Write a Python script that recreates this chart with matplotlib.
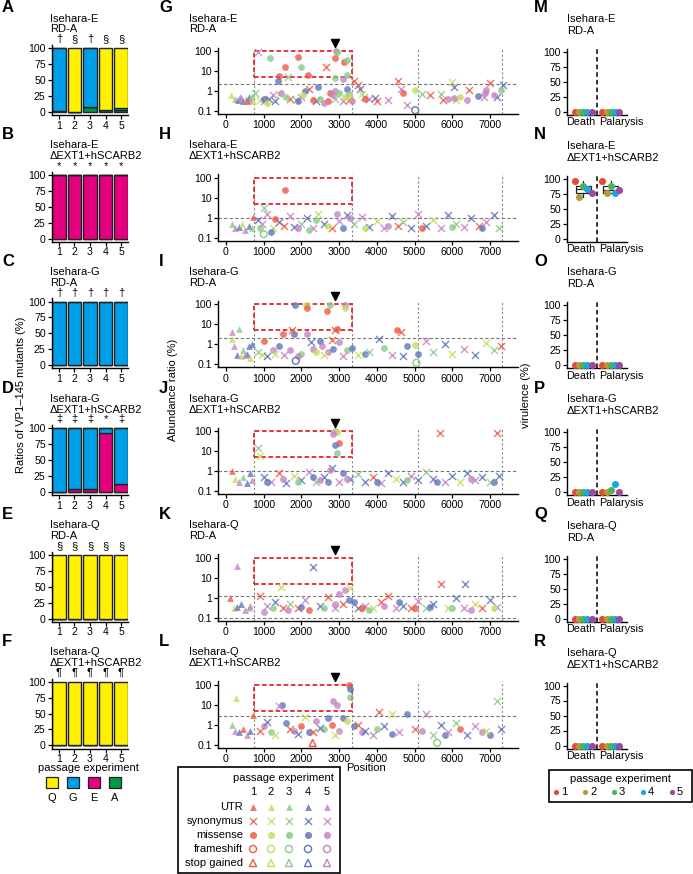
import matplotlib
matplotlib.use('Agg')
import matplotlib.pyplot as plt
from matplotlib.patches import Rectangle

plt.rcParams['font.family'] = ['Liberation Sans', 'DejaVu Sans']

# ---------------- data ----------------
titles = [("Isehara-E", "RD-A"), ("Isehara-E", "ΔEXT1+hSCARB2"),
          ("Isehara-G", "RD-A"), ("Isehara-G", "ΔEXT1+hSCARB2"),
          ("Isehara-Q", "RD-A"), ("Isehara-Q", "ΔEXT1+hSCARB2")]
passages = [1, 2, 3, 4, 5]
genotypes = ["Q", "G", "E", "A"]
geno_colors = {"Q": "#FFF100", "G": "#00A0E9", "E": "#E4007F", "A": "#009944"}

# stacked compositions (%) per panel, per passage 1..5
bar_A = {"Q": [0, 100, 0, 97, 94], "G": [98, 0, 92, 0, 3], "E": [0, 0, 0, 0, 0], "A": [2, 0, 8, 3, 3]}
bar_B = {"Q": [0, 0, 0, 0, 0], "G": [0, 0, 0, 0, 0], "E": [100, 100, 100, 100, 100], "A": [0, 0, 0, 0, 0]}
bar_C = {"Q": [0, 0, 0, 0, 0], "G": [100, 100, 100, 100, 100], "E": [0, 0, 0, 0, 0], "A": [0, 0, 0, 0, 0]}
bar_D = {"Q": [0, 0, 0, 0, 0], "G": [100, 96, 95, 7, 88], "E": [0, 4, 5, 93, 12], "A": [0, 0, 0, 0, 0]}
bar_E = {"Q": [100, 100, 100, 100, 100], "G": [0, 0, 0, 0, 0], "E": [0, 0, 0, 0, 0], "A": [0, 0, 0, 0, 0]}
bar_F = {"Q": [100, 100, 100, 100, 100], "G": [0, 0, 0, 0, 0], "E": [0, 0, 0, 0, 0], "A": [0, 0, 0, 0, 0]}
bar_data = [bar_A, bar_B, bar_C, bar_D, bar_E, bar_F]
bar_marks = [["†", "§", "†", "§", "§"], ["*"] * 5, ["†"] * 5,
             ["‡", "‡", "‡", "*", "‡"], ["§"] * 5, ["¶"] * 5]

# scatter: (position, abundance ratio %, type, passage)
# types: U=UTR, S=synonymus, M=missense, F=frameshift, X=stop gained
G_pts = [(130,0.6,'U',2),(250,0.4,'U',3),(330,0.35,'U',4),(400,0.45,'U',5),(450,0.3,'U',4),(520,0.4,'U',3),
         (600,0.5,'U',4),(650,0.35,'U',5),(700,0.55,'U',3),(720,0.3,'U',2),(380,0.5,'U',5),(560,0.3,'U',1),
         (850,90,'S',5),(760,0.8,'S',3),(900,0.35,'S',2),(1000,0.3,'S',5),(1150,0.4,'S',4),(1250,0.6,'S',5),
         (1300,0.3,'S',4),(1400,0.7,'S',2),(1650,5,'S',3),(1700,0.4,'S',1),(1850,0.35,'S',3),(2000,0.5,'S',5),
         (2200,1.2,'S',1),(2400,0.3,'S',4),(2650,16,'S',1),(2900,0.4,'S',3),(3100,0.3,'S',5),(3250,0.35,'S',1),
         (3400,3,'S',1),(3500,2,'S',1),(3550,1.2,'S',4),(3650,0.5,'S',3),(3800,0.4,'S',5),(3950,0.45,'S',4),
         (4300,0.35,'S',5),(4550,3,'S',1),(4650,1.3,'S',5),(4800,0.2,'S',5),(5200,0.7,'S',3),(5400,0.6,'S',1),
         (5700,0.75,'S',3),(5750,0.35,'S',1),(5990,2.9,'S',2),(6050,1.5,'S',4),(6100,0.35,'S',2),(6450,1.1,'S',1),
         (6850,0.5,'S',5),(7000,2.4,'S',1),(7200,0.5,'S',4),(7350,2,'S',4),(4000,0.3,'S',1),(3600,0.7,'S',2),
         (1170,45,'M',3),(1565,16,'M',1),(1900,52,'M',1),(2000,16,'M',3),(2180,6,'M',1),(1400,5.5,'M',1),
         (1380,3,'M',4),(2910,100,'M',5),(2950,85,'M',3),(2880,45,'M',1),(3130,27,'M',1),(3200,35,'M',3),
         (2880,4.5,'M',3),(3200,6,'M',3),(3100,4,'M',5),(2450,1.5,'M',4),(2100,1.0,'M',4),(4700,0.8,'M',1),
         (5000,1.1,'M',2),(6900,1.1,'M',5),(6880,0.8,'M',5),(7290,1.1,'M',3),(6690,0.55,'M',4),(1000,0.4,'M',4),
         (1450,0.8,'M',5),(1600,0.5,'M',3),(1900,0.3,'M',4),(2050,0.6,'M',2),(2300,0.35,'M',1),(2500,0.4,'M',3),
         (2700,0.3,'M',1),(2750,0.8,'M',1),(2850,0.6,'M',5),(2900,1.0,'M',5),(3000,0.8,'M',3),(3150,0.5,'M',2),
         (3200,1.3,'M',4),(3250,0.7,'M',3),(3300,0.5,'M',2),(2600,0.25,'M',5),(1100,0.25,'M',2),(5900,0.4,'M',5),
         (6050,0.45,'M',5),(6200,0.5,'M',2),(6400,0.35,'M',5),(7100,0.6,'M',5),(3700,0.4,'M',1),(3350,0.3,'M',5),
         (5020,0.11,'F',4)]
H_pts = [(150,0.5,'U',3),(250,0.3,'U',5),(350,0.35,'U',4),(420,0.5,'U',2),(500,0.25,'U',5),(600,0.4,'U',4),
         (680,0.3,'U',3),(720,1.1,'U',1),
         (850,0.8,'S',4),(950,0.5,'S',5),(1000,3,'S',3),(1100,1.5,'S',5),(1250,0.3,'S',2),(1400,0.6,'S',4),
         (1550,0.4,'S',1),(1700,1.2,'S',5),(1800,0.35,'S',4),(2000,0.5,'S',3),(2150,1.0,'S',4),(2300,0.3,'S',5),
         (2450,1.6,'S',2),(2600,0.5,'S',4),(2800,0.3,'S',1),(3000,0.7,'S',5),(3200,1.3,'S',4),(3400,0.5,'S',3),
         (3600,1.1,'S',5),(3800,0.35,'S',4),(4000,0.7,'S',2),(4200,0.3,'S',5),(4400,1.2,'S',4),(4550,0.4,'S',1),
         (4700,0.6,'S',3),(4900,0.3,'S',4),(5100,1.5,'S',5),(5300,0.4,'S',4),(5500,0.8,'S',2),(5700,0.3,'S',5),
         (5900,1.3,'S',4),(6100,0.5,'S',3),(6300,0.35,'S',5),(6500,1.0,'S',4),(6700,0.4,'S',1),(6900,0.6,'S',5),
         (7100,1.4,'S',4),(7250,0.3,'S',3),
         (1565,25,'M',1),(2400,0.8,'M',3),(900,0.3,'M',3),(1300,0.9,'M',1),(1900,0.3,'M',5),(2700,0.4,'M',2),
         (3100,0.3,'M',4),(3300,1.0,'M',5),(2200,0.25,'M',3),(5200,0.3,'M',1),(6000,0.35,'M',3),(6800,0.3,'M',4),
         (4300,0.4,'M',5),(3700,0.3,'M',2),(2950,1.5,'M',5),(1200,0.2,'M',4),
         (1000,0.15,'F',3)]
I_pts = [(150,4,'U',5),(350,6,'U',3),(150,1.8,'U',2),(200,0.8,'U',5),(300,0.3,'U',4),(400,0.25,'U',2),
         (450,0.5,'U',3),(550,0.35,'U',4),(620,0.8,'U',4),(700,1.0,'U',4),(650,0.2,'U',2),(500,0.3,'U',5),
         (1830,95,'M',4),(2130,95,'M',2),(2150,65,'M',1),(2760,95,'M',3),(2680,45,'M',1),(3160,95,'M',5),
         (3150,70,'M',2),(2950,6,'M',1),(1510,3.5,'M',1),(2150,3.5,'M',5),(1800,3.5,'M',4),(4540,5,'M',1),
         (1000,1.5,'M',1),(1250,0.5,'M',5),(1400,0.8,'M',4),(1700,0.5,'M',5),(2000,0.35,'M',3),(2300,0.6,'M',5),
         (2500,1.5,'M',4),(2550,0.8,'M',5),(2700,0.4,'M',5),(2850,0.6,'M',4),(3000,1.3,'M',5),(3200,0.5,'M',3),
         (3350,0.7,'M',4),(3700,0.35,'M',4),(4200,0.7,'M',3),(4800,0.8,'M',4),(5100,0.35,'M',4),(5000,0.9,'M',2),
         (2400,0.4,'M',2),(1900,0.25,'M',5),
         (2900,5.5,'S',1),(1750,5,'S',1),(4650,4,'S',1),(4050,1.8,'S',4),(850,0.4,'S',3),(950,0.3,'S',2),
         (1100,0.25,'S',4),(1300,0.35,'S',2),(1550,0.3,'S',5),(2250,1.3,'S',4),(2600,0.3,'S',2),(2800,1.6,'S',1),
         (3100,0.25,'S',5),(3500,0.3,'S',2),(3800,0.4,'S',3),(4400,0.3,'S',5),(4700,0.25,'S',4),(5300,1.5,'S',5),
         (5500,0.4,'S',3),(5800,1.0,'S',4),(6000,0.35,'S',2),(6300,0.6,'S',5),(6600,0.3,'S',4),(6900,1.2,'S',2),
         (7100,0.5,'S',3),(7300,0.8,'S',1),
         (1850,0.15,'F',4),(5050,0.12,'F',3)]
J_pts = [(150,1.0,'U',1),(250,0.4,'U',2),(350,0.3,'U',5),(450,0.5,'U',3),(550,0.25,'U',4),(650,0.8,'U',4),
         (700,0.35,'U',5),
         (850,15,'S',3),(900,6,'S',2),(1000,0.5,'S',4),(1200,0.3,'S',5),(1400,0.8,'S',1),(1600,0.25,'S',4),
         (1800,0.6,'S',2),(2000,0.35,'S',4),(2200,0.9,'S',5),(2400,0.3,'S',3),(2600,0.5,'S',4),(2800,1.5,'S',4),
         (3000,0.3,'S',5),(3300,0.4,'S',4),(3500,0.7,'S',3),(3700,0.3,'S',4),(3900,0.5,'S',1),(4100,0.25,'S',5),
         (4300,0.8,'S',4),(4500,0.4,'S',2),(4700,0.3,'S',4),(4900,0.6,'S',5),(5100,0.35,'S',4),(5300,0.9,'S',3),
         (5500,0.4,'S',4),(5680,80,'S',1),(5800,0.3,'S',5),(6000,0.6,'S',4),(6200,0.3,'S',2),(6400,0.8,'S',4),
         (6600,0.35,'S',5),(6800,0.5,'S',4),(7000,0.3,'S',3),(7200,80,'S',1),(7250,0.6,'S',4),
         (2900,100,'M',3),(2950,95,'M',2),(2850,70,'M',5),(3000,25,'M',1),(2900,20,'M',4),(2950,8,'M',3),
         (2750,1.2,'M',5),(1100,0.3,'M',4),(1500,0.4,'M',5),(1900,0.3,'M',3),(2300,0.5,'M',4),(2500,0.35,'M',5),
         (2700,0.3,'M',4),(3100,0.8,'M',4),(3200,0.4,'M',5),(4000,0.3,'M',4),(4800,0.35,'M',3),(5600,0.3,'M',4),
         (6500,0.4,'M',5),(7100,0.3,'M',4)]
K_pts = [(290,38,'U',5),(100,1.0,'U',1),(200,0.3,'U',2),(300,0.35,'U',4),(400,0.5,'U',4),(500,0.25,'U',5),
         (600,0.3,'U',3),(650,0.4,'U',5),
         (2300,35,'S',4),(1450,3.3,'S',2),(3300,3,'S',2),(5700,5,'S',1),(6350,5,'S',4),(900,1.2,'S',1),
         (1100,0.4,'S',5),(1300,0.6,'S',4),(1500,0.3,'S',1),(1700,0.5,'S',3),(1900,0.3,'S',1),(2100,0.8,'S',5),
         (2500,0.4,'S',4),(2700,1.1,'S',1),(2900,0.3,'S',5),(3100,0.5,'S',1),(3500,0.3,'S',4),(3700,0.4,'S',5),
         (3900,0.3,'S',2),(4100,0.6,'S',1),(4300,1.2,'S',1),(4500,0.3,'S',5),(4700,0.4,'S',4),(4900,0.3,'S',1),
         (5100,0.7,'S',5),(5300,0.3,'S',3),(5500,0.5,'S',4),(5900,0.3,'S',2),(6100,1.0,'S',4),(6300,0.3,'S',5),
         (6600,0.5,'S',2),(6800,0.3,'S',1),(7000,0.8,'S',4),(7200,0.35,'S',5),
         (2900,0.5,'M',5),(3000,1.5,'M',5),(3150,2.5,'M',5),(3250,0.8,'M',4),(1000,0.2,'M',5),(1250,0.3,'M',3),
         (1650,0.25,'M',5),(2000,0.35,'M',4),(2200,0.25,'M',1),(2600,0.3,'M',3),(3400,0.6,'M',4),(3600,0.3,'M',1),
         (3800,0.25,'M',3),(4200,0.4,'M',5),(4600,0.6,'M',4),(5000,0.3,'M',1),(5400,0.35,'M',4),(6000,0.3,'M',3),
         (6500,0.25,'M',5),(7100,0.3,'M',2)]
L_pts = [(265,21,'U',2),(150,1.0,'U',3),(250,0.5,'U',5),(350,0.4,'U',4),(450,0.6,'U',1),(550,0.3,'U',5),
         (650,0.5,'U',4),(720,3,'U',1),
         (3260,95,'M',1),(3300,60,'M',4),(3300,25,'M',3),(2840,15,'M',5),(2950,10,'M',5),(1480,9,'M',4),
         (4800,3.5,'M',4),(1000,0.8,'M',5),(1200,0.4,'M',3),(1600,1.2,'M',4),(1800,0.5,'M',5),(2000,0.8,'M',1),
         (2200,0.4,'M',4),(2400,1.5,'M',5),(2600,0.6,'M',3),(2700,2,'M',4),(2800,1.0,'M',1),(3000,0.5,'M',5),
         (3100,2.2,'M',4),(3200,1.5,'M',2),(3400,0.8,'M',4),(3600,0.4,'M',5),(4000,0.6,'M',3),(4400,0.35,'M',4),
         (5200,0.5,'M',5),(5800,0.3,'M',4),(6200,0.6,'M',1),(6800,0.4,'M',5),(7000,0.3,'M',4),
         (1400,8,'S',5),(4060,4,'S',1),(4400,3.5,'S',2),(5300,3.5,'S',5),(7200,15,'S',3),(900,0.5,'S',1),
         (1100,1.3,'S',4),(1300,0.3,'S',2),(1700,0.6,'S',1),(1900,0.35,'S',4),(2100,2.5,'S',2),(2300,0.4,'S',1),
         (2500,0.7,'S',4),(2900,0.3,'S',2),(3500,1.0,'S',1),(3700,0.5,'S',4),(3900,0.3,'S',5),(4200,0.8,'S',4),
         (4600,0.4,'S',5),(5000,0.6,'S',1),(5500,0.3,'S',3),(5700,1.0,'S',4),(5900,0.4,'S',5),(6100,1.2,'S',3),
         (6400,0.3,'S',4),(6600,0.8,'S',5),(6900,0.5,'S',2),(7300,0.6,'S',4),
         (5600,0.12,'F',3),(2300,0.12,'X',1)]
scatter_data = [G_pts, H_pts, I_pts, J_pts, K_pts, L_pts]
hlines = [[2.2], [1.0], [2.0], [1.0], [1.2, 0.1], [2.8]]
arrow_pos = [2880, None, 2880, 2880, 2880, 2880]
region_lines = [743, 3332, 5100, 7325]
box_x = (743, 3332)
box_y = (5, 100)
pass_colors = {1: "#EE5A45", 2: "#C5DE5B", 3: "#8ACB88", 4: "#5E76BC", 5: "#C683C3"}

# virulence (%): per panel, per category, values for passages 1..5
categories = ["Death", "Palarysis"]
vir_M = {"Death": [0, 0, 0, 0, 0], "Palarysis": [0, 0, 0, 0, 0]}
vir_N = {"Death": [97, 70, 88, 83, 76], "Palarysis": [97, 76, 88, 76, 82]}
vir_O = {"Death": [0, 0, 0, 0, 0], "Palarysis": [0, 0, 0, 0, 0]}
vir_P = {"Death": [0, 0, 0, 0, 0], "Palarysis": [0, 0, 4, 13, 0]}
vir_Q = {"Death": [0, 0, 0, 0, 0], "Palarysis": [0, 0, 0, 0, 0]}
vir_R = {"Death": [0, 0, 0, 0, 0], "Palarysis": [0, 0, 0, 0, 0]}
vir_data = [vir_M, vir_N, vir_O, vir_P, vir_Q, vir_R]
show_box = [False, True, False, False, False, False]
vir_colors = {1: "#E64B35", 2: "#B09C3C", 3: "#4DB352", 4: "#1BA6E0", 5: "#9B4A9C"}

# ---------------- figure ----------------
W, H = 693, 874
fig = plt.figure(figsize=(W / 100, H / 100), dpi=100)
ROW = 126.7
FS = 7.6


def add_ax(x0, y0, x1, y1):
    return fig.add_axes([x0 / W, 1 - y1 / H, (x1 - x0) / W, (y1 - y0) / H])


def style(ax):
    for s in ['top', 'right']:
        ax.spines[s].set_visible(False)
    for s in ['left', 'bottom']:
        ax.spines[s].set_linewidth(1.0)
    ax.tick_params(length=3, width=0.9, labelsize=FS, pad=1.5, colors='black')


overlay = fig.add_axes([0, 0, 1, 1], zorder=-1)
overlay.set_xlim(0, W)
overlay.set_ylim(H, 0)
overlay.axis('off')


def otext(x, y, s, **kw):
    kw.setdefault('fontsize', FS + 0.4)
    overlay.text(x, y, s, **kw)


letters_left = "ABCDEF"
letters_mid = "GHIJKL"
letters_right = "MNOPQR"

for i in range(6):
    off = i * ROW
    # ---- bar panels ----
    ax = add_ax(52, 45 + off, 128, 115 + off)
    d = bar_data[i]
    bottom = [0] * 5
    for g in ["A", "E", "G", "Q"]:
        vals = d[g]
        ax.bar(passages, vals, bottom=bottom, width=0.9, color=geno_colors[g],
               edgecolor='#222222', linewidth=1.0)
        bottom = [b + v for b, v in zip(bottom, vals)]
    ax.set_xlim(0.55, 5.45)
    ax.set_ylim(-5, 105)
    ax.set_yticks([0, 25, 50, 75, 100])
    ax.set_xticks(passages)
    style(ax)
    ax.tick_params(axis='x', pad=1.0)
    for p, m in zip(passages, bar_marks[i]):
        ax.text(p, 106, m, ha='center', va='bottom', fontsize=FS + 0.5, clip_on=False)
    otext(2, 8 + off, letters_left[i], fontsize=12, fontweight='bold', va='center')
    otext(50, 18.5 + off, titles[i][0], va='center')
    otext(50, 29.5 + off, titles[i][1], va='center')

    # ---- scatter panels ----
    ax = add_ax(218, 47.5 + off, 518, 114 + off)
    ax.set_yscale('log')
    ax.set_xlim(-212, 7745)
    ax.set_ylim(0.0708, 150)
    for xv in region_lines:
        ax.axvline(xv, color='#888888', ls=(0, (2, 2)), lw=0.8, zorder=1)
    for hv in hlines[i]:
        ax.axhline(hv, color='#777777', ls=(0, (3, 2)), lw=0.8, zorder=1)
    ax.add_patch(Rectangle((box_x[0], box_y[0]), box_x[1] - box_x[0], box_y[1] - box_y[0],
                           fill=False, ec='#E0262B', ls=(0, (2.5, 1.5)), lw=1.3, zorder=2))
    for pos, val, kind, p in scatter_data[i]:
        c = pass_colors[p]
        if kind == 'U':
            ax.scatter(pos, val, marker='^', s=24, color=c, alpha=0.8, lw=0, zorder=3)
        elif kind == 'S':
            ax.scatter(pos, val, marker='x', s=26, color=c, alpha=0.85, lw=1.0, zorder=3)
        elif kind == 'M':
            ax.scatter(pos, val, marker='o', s=24, color=c, alpha=0.8, lw=0, zorder=3)
        elif kind == 'F':
            ax.scatter(pos, val, marker='o', s=24, facecolor='none', edgecolor=c, lw=1.0, zorder=3)
        else:
            ax.scatter(pos, val, marker='^', s=24, facecolor='none', edgecolor=c, lw=1.0, zorder=3)
    if arrow_pos[i] is not None:
        ax.scatter(arrow_pos[i], 250, marker='v', s=34, color='black', clip_on=False, zorder=5)
    ax.set_yticks([0.1, 1, 10, 100])
    ax.set_yticklabels(['0.1', '1', '10', '100'])
    ax.minorticks_off()
    ax.set_xticks(range(0, 8000, 1000))
    style(ax)
    otext(159, 8 + off, letters_mid[i], fontsize=12, fontweight='bold', va='center')
    otext(189, 18.5 + off, titles[i][0], va='center')
    otext(189, 29.5 + off, titles[i][1], va='center')

    # ---- virulence panels ----
    ax = add_ax(567, 49 + off, 627, 115 + off)
    ax.set_xlim(0.4, 2.6)
    ax.set_ylim(-5, 105)
    ax.axvline(1.5, color='black', ls=(0, (3, 2)), lw=1.1)
    vd = vir_data[i]
    offsets = [-0.3, -0.15, 0.0, 0.15, 0.3]
    for ci, cat in enumerate(categories):
        vals = vd[cat]
        if show_box[i]:
            bp = ax.boxplot([vals], positions=[ci + 1], widths=0.55, whis=1.5, showfliers=False,
                            patch_artist=True, manage_ticks=False)
            for b in bp['boxes']:
                b.set(facecolor='none', edgecolor='#222222', linewidth=0.9)
            for k in ['whiskers', 'caps', 'medians']:
                for ln in bp[k]:
                    ln.set(color='#222222', linewidth=0.9)
            for ln in bp['caps']:
                ln.set_visible(False)
        for p, v, o in zip(passages, vals, offsets):
            ax.scatter(ci + 1 + o, v, s=26, color=vir_colors[p], lw=0, zorder=4, clip_on=False)
    ax.set_yticks([0, 25, 50, 75, 100])
    ax.set_xticks([])
    style(ax)
    ax.text(1.43, -9, "Death", ha='right', va='top', fontsize=FS + 0.2, clip_on=False)
    ax.text(1.57, -9, "Palarysis", ha='left', va='top', fontsize=FS + 0.2, clip_on=False)
    otext(534, 8 + off, letters_right[i], fontsize=12, fontweight='bold', va='center')
    otext(567, 19 + off, titles[i][0], va='center')
    otext(567, 31 + off, titles[i][1], va='center')

# axis titles
otext(21, 395, "Ratios of VP1–145 mutants (%)", rotation=90, ha='center', va='center')
otext(173, 390, "Abundance ratio (%)", rotation=90, ha='center', va='center')
otext(526, 395, "virulence (%)", rotation=90, ha='center', va='center')
otext(366, 768, "Position", ha='center', va='center')

# bar legend
otext(88, 768, "passage experiment", ha='center', va='center')
for k, g in enumerate(genotypes):
    cx = 52 + k * 21
    overlay.add_patch(Rectangle((cx - 6, 777), 12, 11, facecolor=geno_colors[g], edgecolor='#222222', lw=0.9))
    otext(cx, 798, g, ha='center', va='center')

# scatter legend
overlay.add_patch(Rectangle((178, 767), 162, 106, fill=False, edgecolor='black', lw=1.2))
otext(283, 778, "passage experiment", ha='center', va='center')
col_x = [253, 271, 289, 308, 327]
for k, p in enumerate(passages):
    otext(col_x[k], 792, str(p), ha='center', va='center')
row_labels = ["UTR", "synonymus", "missense", "frameshift", "stop gained"]
row_y = [807, 821, 835, 849, 863]
for r, lab in enumerate(row_labels):
    otext(243, row_y[r], lab, ha='right', va='center')
    for k, p in enumerate(passages):
        c = pass_colors[p]
        x, y = col_x[k], row_y[r]
        if r == 0:
            overlay.scatter(x, y, marker='^', s=24, color=c, lw=0, alpha=0.85)
        elif r == 1:
            overlay.scatter(x, y, marker='x', s=26, color=c, lw=1.0, alpha=0.85)
        elif r == 2:
            overlay.scatter(x, y, marker='o', s=26, color=c, lw=0, alpha=0.85)
        elif r == 3:
            overlay.scatter(x, y, marker='o', s=26, facecolor='none', edgecolor=c, lw=1.0)
        else:
            overlay.scatter(x, y, marker='^', s=26, facecolor='none', edgecolor=c, lw=1.0)

# virulence legend
overlay.add_patch(Rectangle((549, 770), 143, 32, fill=False, edgecolor='black', lw=1.2))
otext(620, 779, "passage experiment", ha='center', va='center')
for k, p in enumerate(passages):
    dx = 556 + k * 29
    overlay.scatter(dx, 792, s=14, color=vir_colors[p], lw=0)
    otext(dx + 5, 792, str(p), ha='left', va='center')

fig.savefig("out.png", dpi=100)
